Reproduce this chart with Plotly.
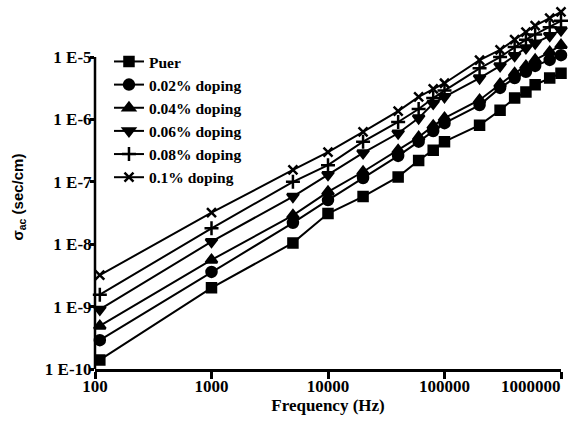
import math
import plotly.graph_objects as go

freq = [110, 1000, 5000, 10000, 20000, 40000, 60000, 80000, 100000,
        200000, 300000, 400000, 500000, 600000, 800000, 1000000]

puer = [1.4e-10, 2.0e-9, 1.05e-8, 3.1e-8, 5.8e-8, 1.2e-7, 2.2e-7, 3.2e-7, 4.4e-7,
        8.1e-7, 1.4e-6, 2.2e-6, 2.75e-6, 3.6e-6, 4.6e-6, 5.5e-6]
d002 = [2.9e-10, 3.6e-9, 2.2e-8, 5.1e-8, 1.15e-7, 2.6e-7, 4.4e-7, 6.5e-7, 8.7e-7,
        1.7e-6, 3.2e-6, 4.6e-6, 5.8e-6, 7.2e-6, 9.0e-6, 1.07e-5]
d004 = [4.9e-10, 5.6e-9, 2.9e-8, 6.9e-8, 1.45e-7, 3.2e-7, 5.2e-7, 7.9e-7, 1.05e-6,
        2.05e-6, 3.7e-6, 5.5e-6, 7.2e-6, 9.0e-6, 1.2e-5, 1.55e-5]
d006 = [9.0e-10, 1.1e-8, 5.8e-8, 1.3e-7, 2.9e-7, 6.0e-7, 1.05e-6, 1.8e-6, 2.3e-6,
        4.6e-6, 7.2e-6, 1.05e-5, 1.4e-5, 1.67e-5, 2.2e-5, 2.7e-5]
d008 = [1.55e-9, 1.8e-8, 1.0e-7, 1.85e-7, 4.4e-7, 9.1e-7, 1.47e-6, 2.2e-6, 2.9e-6,
        6.6e-6, 1.0e-5, 1.45e-5, 1.9e-5, 2.3e-5, 3.0e-5, 3.8e-5]
d010 = [3.2e-9, 3.2e-8, 1.55e-7, 3.0e-7, 6.3e-7, 1.36e-6, 2.3e-6, 3.1e-6, 3.8e-6,
        8.9e-6, 1.3e-5, 1.9e-5, 2.5e-5, 3.2e-5, 4.2e-5, 5.3e-5]

names = ["Puer", "0.02% doping", "0.04% doping", "0.06% doping", "0.08% doping", "0.1% doping"]
series = [puer, d002, d004, d006, d008, d010]
symbols = ["square", "circle", "triangle-up", "triangle-down", "cross-thin", "x-thin"]
sizes = [9, 10, 10, 10, 10, 9]

xtickvals = [100, 1000, 10000, 100000, 1000000]
xticktext = ["100", "1000", "10000", "100000", "1000000"]
ytickvals = [1e-10, 1e-9, 1e-8, 1e-7, 1e-6, 1e-5]
yticktext = ["1 E-10", "1 E-9", "1 E-8", "1 E-7", "1 E-6", "1 E-5"]

fig = go.Figure()
for name, vals, sym, sz in zip(names, series, symbols, sizes):
    fig.add_trace(go.Scatter(
        x=freq, y=vals, name=name, mode="lines+markers",
        line=dict(color="black", width=2),
        marker=dict(symbol=sym, size=sz, color="black",
                    line=dict(color="black", width=2.5)),
        cliponaxis=False,
    ))

serif = "Liberation Serif, Times New Roman, serif"
tickfont = dict(family=serif, size=17, color="black", weight="bold")

fig.update_layout(
    width=571, height=421,
    margin=dict(l=95, r=10, t=4, b=52),
    paper_bgcolor="white", plot_bgcolor="white",
    showlegend=True,
    legend=dict(x=0.03, y=0.888, xanchor="left", yanchor="top",
                bgcolor="rgba(0,0,0,0)", borderwidth=0,
                font=dict(family=serif, size=15.5, color="black", weight="bold"),
                tracegroupgap=0),
    font=dict(family=serif, color="black"),
)
fig.update_xaxes(
    type="log", range=[2, 6],
    showline=True, linecolor="black", linewidth=2.5,
    showgrid=False, zeroline=False,
    ticks="outside", ticklen=7, tickwidth=2.5, tickcolor="black",
    tickvals=xtickvals, ticktext=xticktext[:-1] + [""],
    ticklabelstandoff=-7,
    tickfont=tickfont,
    title=dict(text="<b>Frequency (Hz)</b>", standoff=0,
               font=dict(family=serif, size=17, color="black")),
)
fig.update_yaxes(
    type="log", range=[-10, -4.15],
    showline=False, showgrid=False, zeroline=False,
    ticks="outside", ticklen=4, tickwidth=2.5, tickcolor="black",
    tickvals=ytickvals, ticktext=yticktext,
    ticklabelstandoff=-5,
    tickfont=tickfont,
)
# last x tick label ends at its tick (it would otherwise run off the page)
fig.add_annotation(
    text=xticktext[-1], x=math.log10(xtickvals[-1]), xref="x",
    y=0, yref="paper", xanchor="right", yanchor="top",
    yshift=-6, xshift=2, showarrow=False, font=tickfont,
)
# y axis line spanning only the labelled decades
fig.add_shape(type="line", xref="paper", yref="y",
              x0=0, x1=0, y0=ytickvals[0], y1=ytickvals[-1],
              line=dict(color="black", width=2.5))
fig.add_annotation(
    text="<b>σ<sub>ac</sub> (sec/cm)</b>", textangle=-90,
    xref="paper", yref="paper", x=-0.165, y=0.47,
    xanchor="center", yanchor="middle", showarrow=False,
    font=dict(family="Liberation Sans, Arial, sans-serif", size=15, color="black"),
)

fig.write_html("out.html")
